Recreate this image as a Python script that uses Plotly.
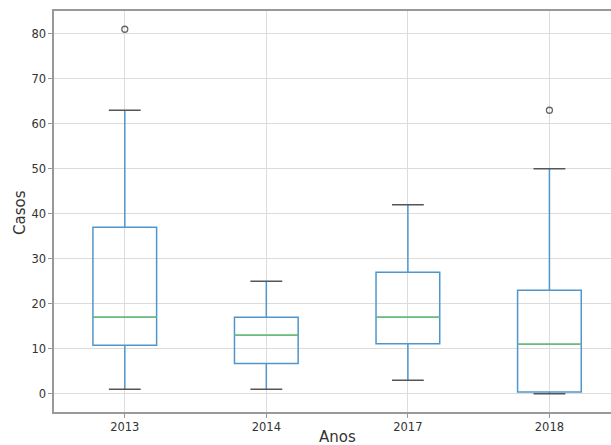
import plotly.graph_objects as go

years = ["2013", "2014", "2017", "2018"]
q1 = [10.8, 6.7, 11.1, 0.4]
median = [17, 13, 17, 11]
q3 = [37, 17, 27, 23]
whisker_low = [1, 1, 3, 0]
whisker_high = [63, 25, 42, 50]
outlier_year = ["2013", "2018"]
outlier_value = [81, 63]

positions = list(range(1, len(years) + 1))
pos_of = dict(zip(years, positions))
box_width = 0.45
cap_half = box_width / 4

blue = "#5096cc"
green = "#6cc06c"
capc = "#555555"

fig = go.Figure()
for p, a, m, b, lo, hi in zip(positions, q1, median, q3, whisker_low, whisker_high):
    fig.add_trace(go.Box(
        x=[p], q1=[a], median=[m], q3=[b], lowerfence=[lo], upperfence=[hi],
        width=box_width, whiskerwidth=0, boxpoints=False,
        line=dict(color=blue, width=1.5), fillcolor="rgba(0,0,0,0)",
        showlegend=False, hoverinfo="skip"))

# medians (green)
mx, my = [], []
for p, m in zip(positions, median):
    mx += [p - box_width / 2, p + box_width / 2, None]
    my += [m, m, None]
fig.add_trace(go.Scatter(x=mx, y=my, mode="lines", line=dict(color=green, width=1.4),
                         showlegend=False, hoverinfo="skip"))

# caps
cx, cy = [], []
for p, lo, hi in zip(positions, whisker_low, whisker_high):
    for v in (lo, hi):
        cx += [p - cap_half, p + cap_half, None]
        cy += [v, v, None]
fig.add_trace(go.Scatter(x=cx, y=cy, mode="lines", line=dict(color=capc, width=1.5),
                         showlegend=False, hoverinfo="skip"))

# outliers
fig.add_trace(go.Scatter(x=[pos_of[y] for y in outlier_year], y=outlier_value, mode="markers",
                         marker=dict(symbol="circle-open", size=6, color="#666666", line=dict(width=1.3)),
                         showlegend=False, hoverinfo="skip"))

font_color = "#333333"
L, R, T, B = 54, 0, 11, 33
W, H = 611, 445
pw = W - L - R
ph = H - T - B

fig.update_layout(
    width=W, height=H,
    margin=dict(l=L, r=R, t=T, b=B, autoexpand=False),
    plot_bgcolor="white", paper_bgcolor="white",
    font=dict(family="DejaVu Sans", size=11.5, color=font_color),
    xaxis=dict(
        range=[0.5, 4.435], tickvals=positions, ticktext=years,
        showgrid=True, gridcolor="#dcdcdc", gridwidth=1,
        showline=True, linecolor="#999999", linewidth=1.6, mirror=True,
        ticks="outside", ticklen=4, tickcolor="#999999",
        zeroline=False, automargin=False,
    ),
    yaxis=dict(
        range=[-4.05, 85.05], tickvals=[0, 10, 20, 30, 40, 50, 60, 70, 80],
        showgrid=True, gridcolor="#dcdcdc", gridwidth=1,
        showline=True, linecolor="#999999", linewidth=1.6,
        ticks="outside", ticklen=4, tickcolor="#999999",
        zeroline=False, automargin=False,
    ),
    annotations=[
        dict(text="Casos", xref="paper", yref="paper", x=(20 - L) / pw, y=(H - B - 213) / ph,
             xanchor="center", yanchor="middle", textangle=-90, showarrow=False,
             font=dict(size=15, color=font_color)),
        dict(text="Anos", xref="paper", yref="paper", x=(337 - L) / pw, y=(H - B - 437) / ph,
             xanchor="center", yanchor="middle", showarrow=False,
             font=dict(size=15, color=font_color)),
    ],
)

fig.write_html("out.html", config={"displayModeBar": False, "staticPlot": True},
               post_script="document.body.style.margin='0';document.body.style.overflow='hidden';")
